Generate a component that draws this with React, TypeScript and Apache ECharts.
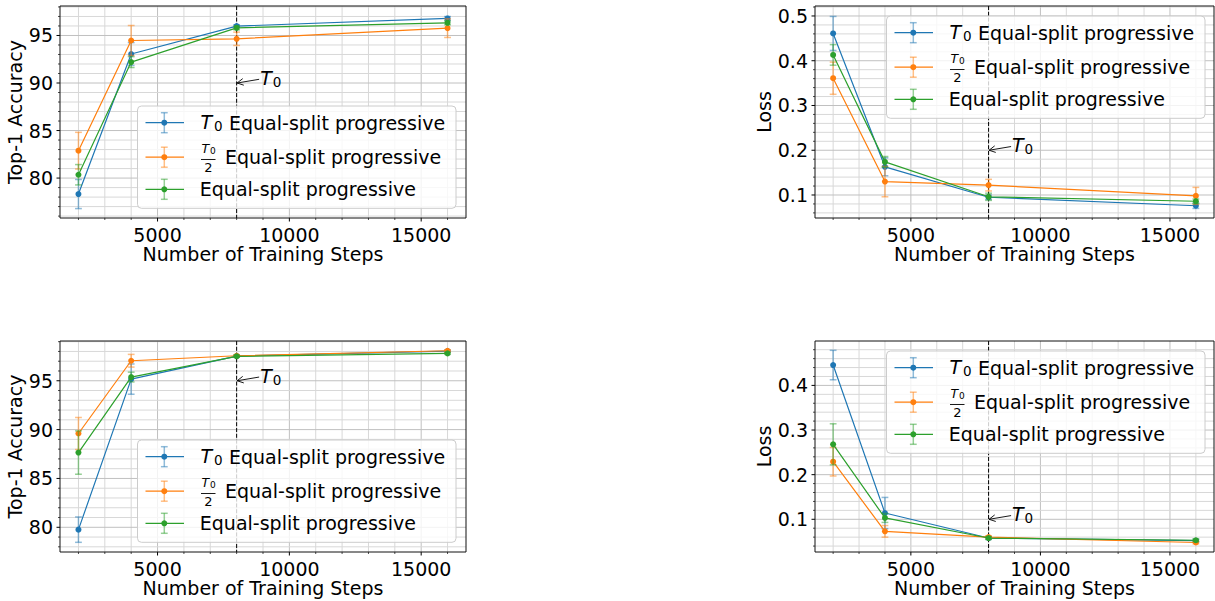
import React, { useEffect, useRef } from "react";
import * as echarts from "echarts";

// ---------------- data ----------------
const steps = [2000, 4000, 8000, 16000];
const T0_STEP = 8000;
const colors = ["#1f77b4", "#ff7f0e", "#2ca02c"];
const xLabelTicks = [5000, 10000, 15000];

// Top-left: accuracy (setting A)
const accA_t0 = [78.32, 93.05, 95.98, 96.79];
const accA_t0Err = [1.53, 1.2, 0.15, 0.2];
const accA_half = [82.88, 94.47, 94.65, 95.77];
const accA_halfErr = [1.93, 1.58, 0.7, 0.98];
const accA_eq = [80.35, 92.2, 95.8, 96.33];
const accA_eqErr = [1.07, 0.57, 0.2, 0.2];

// Top-right: loss (setting A)
const lossA_t0 = [0.461, 0.163, 0.095, 0.076];
const lossA_t0Err = [0.038, 0.02, 0.005, 0.006];
const lossA_half = [0.361, 0.13, 0.122, 0.098];
const lossA_halfErr = [0.036, 0.034, 0.013, 0.019];
const lossA_eq = [0.413, 0.174, 0.096, 0.086];
const lossA_eqErr = [0.023, 0.012, 0.008, 0.005];

// Bottom-left: accuracy (setting B)
const accB_t0 = [79.76, 95.17, 97.53, 98.04];
const accB_t0Err = [1.3, 1.55, 0.1, 0.1];
const accB_half = [89.6, 97.05, 97.56, 98.07];
const accB_halfErr = [1.64, 0.65, 0.1, 0.1];
const accB_eq = [87.65, 95.38, 97.5, 97.8];
const accB_eqErr = [2.22, 0.5, 0.1, 0.1];

// Bottom-right: loss (setting B)
const lossB_t0 = [0.4456, 0.114, 0.058, 0.052];
const lossB_t0Err = [0.033, 0.035, 0.003, 0.003];
const lossB_half = [0.229, 0.073, 0.06, 0.048];
const lossB_halfErr = [0.032, 0.013, 0.003, 0.003];
const lossB_eq = [0.268, 0.103, 0.058, 0.053];
const lossB_eqErr = [0.046, 0.01, 0.003, 0.003];

const accMajor = [80, 85, 90, 95];
const lossMajorA = [0.1, 0.2, 0.3, 0.4, 0.5];
const lossMajorB = [0.1, 0.2, 0.3, 0.4];

// ---------------- style ----------------
const FONT = "'DejaVu Sans', 'Liberation Sans', sans-serif";
const FS = 19;
const X_MIN = 1300;
const X_MAX = 16700;
const GRID_MAJOR = "#c0c0c0";
const GRID_MINOR = "#d8d8d8";
const LEGEND_Z = 100;

function range(a: number, b: number, step: number, scale: number) {
  const out: number[] = [];
  for (let k = a; k <= b; k += step) out.push(Math.round(k) / scale);
  return out;
}

const xGridVals = range(2000, 16000, 1000, 1);

type Panel = {
  left: number; top: number; width: number; height: number;
  yMin: number; yMax: number; yMajor: number[]; yGrid: number[];
  yName: string; nameGap: number; annY: number;
  values: number[][]; errs: number[][];
  legendX: number; legendY: number;
};

const panels: Panel[] = [
  {
    left: 60, top: 6, width: 406, height: 212,
    yMin: 75.8, yMax: 98.1, yMajor: accMajor, yGrid: range(76, 98, 1, 1),
    yName: "Top-1 Accuracy", nameGap: 30, annY: 90,
    values: [accA_t0, accA_half, accA_eq], errs: [accA_t0Err, accA_halfErr, accA_eqErr],
    legendX: 137.5, legendY: 106,
  },
  {
    left: 815, top: 6, width: 399, height: 212,
    yMin: 0.0486, yMax: 0.5223, yMajor: lossMajorA, yGrid: range(6, 52, 2, 100),
    yName: "Loss", nameGap: 38, annY: 0.2,
    values: [lossA_t0, lossA_half, lossA_eq], errs: [lossA_t0Err, lossA_halfErr, lossA_eqErr],
    legendX: 886.5, legendY: 16,
  },
  {
    left: 60, top: 341, width: 406, height: 211,
    yMin: 77.47, yMax: 99.07, yMajor: accMajor, yGrid: range(78, 99, 1, 1),
    yName: "Top-1 Accuracy", nameGap: 30, annY: 95,
    values: [accB_t0, accB_half, accB_eq], errs: [accB_t0Err, accB_halfErr, accB_eqErr],
    legendX: 137.5, legendY: 440,
  },
  {
    left: 815, top: 341, width: 399, height: 211,
    yMin: 0.0267, yMax: 0.4995, yMajor: lossMajorB, yGrid: range(4, 48, 2, 100),
    yName: "Loss", nameGap: 38, annY: 0.1,
    values: [lossB_t0, lossB_half, lossB_eq], errs: [lossB_t0Err, lossB_halfErr, lossB_eqErr],
    legendX: 886.5, legendY: 351,
  },
];

function isMajor(v: number, majors: number[]) {
  return majors.some((m) => Math.abs(m - v) < 1e-9);
}

function txt(x: number, y: number, text: string, size: number, italic = false, align = "left", z?: number) {
  const el: any = {
    type: "text",
    x,
    y,
    style: {
      text,
      font: `${italic ? "italic " : ""}${size}px ${FONT}`,
      fill: "#000",
      align,
      textAlign: align,
      verticalAlign: "middle",
      textVerticalAlign: "middle",
    },
  };
  if (z !== undefined) el.z = z;
  return el;
}

function legendGroup(p: Panel) {
  const rows = [16.7, 51.2, 83.3];
  const Z = LEGEND_Z;
  const children: any[] = [
    {
      type: "rect", z: Z,
      shape: { x: 0, y: 0, width: 318.5, height: 102.3, r: 4 },
      style: { fill: "rgba(255,255,255,0.8)", stroke: "#cccccc", lineWidth: 1 },
    },
  ];
  rows.forEach((ry, s) => {
    const c = colors[s];
    children.push(
      { type: "line", z: Z + 1, shape: { x1: 8, y1: ry, x2: 46.5, y2: ry }, style: { stroke: c, lineWidth: 1.2 } },
      { type: "line", z: Z + 1, shape: { x1: 26.8, y1: ry - 10, x2: 26.8, y2: ry + 10 }, style: { stroke: c, lineWidth: 1.5, opacity: 0.5 } },
      { type: "line", z: Z + 1, shape: { x1: 23.4, y1: ry - 10, x2: 30.2, y2: ry - 10 }, style: { stroke: c, lineWidth: 1.5, opacity: 0.5 } },
      { type: "line", z: Z + 1, shape: { x1: 23.4, y1: ry + 10, x2: 30.2, y2: ry + 10 }, style: { stroke: c, lineWidth: 1.5, opacity: 0.5 } },
      { type: "circle", z: Z + 2, shape: { cx: 26.8, cy: ry, r: 3 }, style: { fill: c } }
    );
  });
  const T = Z + 3;
  // row 0: T0 Equal-split progressive
  children.push(txt(63, rows[0] - 1, "T", FS, true, "left", T));
  children.push(txt(76.5, rows[0] + 3, "0", 13.5, false, "left", T));
  children.push(txt(91.5, rows[0], "Equal-split progressive", FS, false, "left", T));
  // row 1: T0/2 Equal-split progressive
  children.push(txt(64, rows[1] - 8.5, "T", 12.5, true, "left", T));
  children.push(txt(72.5, rows[1] - 6, "0", 9, false, "left", T));
  children.push({
    type: "line", z: T,
    shape: { x1: 63.5, y1: rows[1] + 2.3, x2: 78, y2: rows[1] + 2.3 },
    style: { stroke: "#000", lineWidth: 0.9 },
  });
  children.push(txt(70.8, rows[1] + 10.3, "2", 13, false, "center", T));
  children.push(txt(87.5, rows[1], "Equal-split progressive", FS, false, "left", T));
  // row 2
  children.push(txt(62.3, rows[2], "Equal-split progressive", FS, false, "left", T));
  return { type: "group", x: p.legendX, y: p.legendY, z: Z, children };
}

function buildOption() {
  const grid: any[] = [];
  const xAxis: any[] = [];
  const yAxis: any[] = [];
  const series: any[] = [];
  const graphic: any[] = [];

  panels.forEach((p, i) => {
    grid.push({
      left: p.left, top: p.top, width: p.width, height: p.height,
      show: true, borderColor: "#111", borderWidth: 1, backgroundColor: "transparent", z: 10,
    });
    xAxis.push({
      type: "value", gridIndex: i, min: X_MIN, max: X_MAX,
      splitLine: { show: false }, axisLine: { show: false }, axisTick: { show: false },
      axisLabel: {
        customValues: xLabelTicks, fontSize: FS, color: "#000", fontFamily: FONT, margin: 7,
        formatter: (v: number) => String(v),
      },
      name: "Number of Training Steps", nameLocation: "middle", nameGap: 25,
      nameTextStyle: { fontSize: FS, color: "#000", fontFamily: FONT },
    });
    yAxis.push({
      type: "value", gridIndex: i, min: p.yMin, max: p.yMax,
      splitLine: { show: false }, axisLine: { show: false }, axisTick: { show: false },
      axisLabel: {
        customValues: p.yMajor, fontSize: FS, color: "#000", fontFamily: FONT, margin: 7,
        formatter: (v: number) => String(v),
      },
      name: p.yName, nameLocation: "middle", nameGap: p.nameGap,
      nameTextStyle: { fontSize: FS, color: "#000", fontFamily: FONT },
    });

    // vertical grid lines + x ticks
    series.push({
      type: "custom", xAxisIndex: i, yAxisIndex: i, z: 1, silent: true, clip: false,
      data: xGridVals.map((v) => [v, p.yMin, isMajor(v, xLabelTicks) ? 1 : 0]),
      encode: { x: 0, y: 1 },
      renderItem: (_params: any, api: any) => {
        const v = api.value(0);
        const major = api.value(2) === 1;
        const a = api.coord([v, p.yMin]);
        const b = api.coord([v, p.yMax]);
        return {
          type: "group",
          children: [
            { type: "line", shape: { x1: a[0], y1: a[1], x2: b[0], y2: b[1] }, style: { stroke: major ? GRID_MAJOR : GRID_MINOR, lineWidth: 1 } },
            { type: "line", shape: { x1: a[0], y1: a[1], x2: a[0], y2: a[1] + (major ? 3.5 : 2) }, style: { stroke: "#000", lineWidth: major ? 1 : 0.7 } },
          ],
        };
      },
    });
    // horizontal grid lines + y ticks
    series.push({
      type: "custom", xAxisIndex: i, yAxisIndex: i, z: 1, silent: true, clip: false,
      data: p.yGrid.map((v) => [X_MIN, v, isMajor(v, p.yMajor) ? 1 : 0]),
      encode: { x: 0, y: 1 },
      renderItem: (_params: any, api: any) => {
        const v = api.value(1);
        const major = api.value(2) === 1;
        const a = api.coord([X_MIN, v]);
        const b = api.coord([X_MAX, v]);
        return {
          type: "group",
          children: [
            { type: "line", shape: { x1: a[0], y1: a[1], x2: b[0], y2: b[1] }, style: { stroke: major ? GRID_MAJOR : GRID_MINOR, lineWidth: 1 } },
            { type: "line", shape: { x1: a[0], y1: a[1], x2: a[0] - (major ? 3.5 : 2), y2: a[1] }, style: { stroke: "#000", lineWidth: major ? 1 : 0.7 } },
          ],
        };
      },
    });
    // T0 dashed line + annotation
    series.push({
      type: "custom", xAxisIndex: i, yAxisIndex: i, z: 2, silent: true, clip: false,
      data: [[T0_STEP, p.annY]],
      encode: { x: 0, y: 1 },
      renderItem: (_params: any, api: any) => {
        const x = api.value(0);
        const tip = api.coord([x, api.value(1)]);
        const top = api.coord([x, p.yMax]);
        const bot = api.coord([x, p.yMin]);
        const tail = [tip[0] + 22.5, tip[1] - 3.7];
        const dx = tail[0] - tip[0];
        const dy = tail[1] - tip[1];
        const len = Math.sqrt(dx * dx + dy * dy);
        const ux = dx / len;
        const uy = dy / len;
        const L = 7.5;
        const ang = 0.46;
        const w1 = [tip[0] + L * (ux * Math.cos(ang) - uy * Math.sin(ang)), tip[1] + L * (ux * Math.sin(ang) + uy * Math.cos(ang))];
        const w2 = [tip[0] + L * (ux * Math.cos(-ang) - uy * Math.sin(-ang)), tip[1] + L * (ux * Math.sin(-ang) + uy * Math.cos(-ang))];
        return {
          type: "group",
          children: [
            { type: "line", shape: { x1: top[0], y1: top[1], x2: bot[0], y2: bot[1] }, style: { stroke: "#000", lineWidth: 1, lineDash: [4, 1.8] } },
            { type: "line", shape: { x1: tail[0], y1: tail[1], x2: tip[0] + 0.5, y2: tip[1] }, style: { stroke: "#000", lineWidth: 0.9 } },
            { type: "polyline", shape: { points: [w1, [tip[0] + 0.5, tip[1]], w2] }, style: { stroke: "#000", lineWidth: 0.9, fill: "none" } },
            txt(tip[0] + 23.5, tip[1] - 5, "T", FS, true),
            txt(tip[0] + 36, tip[1] - 1, "0", 13.5),
          ],
        };
      },
    });

    // data series
    p.values.forEach((vals, s) => {
      const c = colors[s];
      const errs = p.errs[s];
      series.push({
        type: "custom", xAxisIndex: i, yAxisIndex: i, z: 3 + s, silent: true, clip: false,
        data: steps.map((x, k) => [x, vals[k], errs[k]]),
        encode: { x: 0, y: 1 },
        renderItem: (_params: any, api: any) => {
          const x = api.value(0);
          const y = api.value(1);
          const e = api.value(2);
          const t = api.coord([x, y + e]);
          const b = api.coord([x, y - e]);
          const st = { stroke: c, lineWidth: 1.5, opacity: 0.5 };
          return {
            type: "group",
            children: [
              { type: "line", shape: { x1: t[0], y1: t[1], x2: b[0], y2: b[1] }, style: st },
              { type: "line", shape: { x1: t[0] - 3.4, y1: t[1], x2: t[0] + 3.4, y2: t[1] }, style: st },
              { type: "line", shape: { x1: b[0] - 3.4, y1: b[1], x2: b[0] + 3.4, y2: b[1] }, style: st },
            ],
          };
        },
      });
      series.push({
        type: "line", xAxisIndex: i, yAxisIndex: i, z: 3 + s, silent: true,
        data: steps.map((x, k) => [x, vals[k]]),
        symbol: "circle", symbolSize: 6, showSymbol: true,
        lineStyle: { color: c, width: 1.2 },
        itemStyle: { color: c },
      });
    });

    graphic.push(legendGroup(p));
  });

  return { animation: false, grid, xAxis, yAxis, series, graphic };
}

export default function App() {
  const ref = useRef<HTMLDivElement>(null);
  useEffect(() => {
    if (!ref.current) return;
    const chart = echarts.init(ref.current, null, { renderer: "svg" });
    chart.setOption(buildOption() as any);
    return () => chart.dispose();
  }, []);
  return (
    <div
      ref={ref}
      style={{ position: "fixed", left: 0, top: 0, width: 1215, height: 601, background: "#fff" }}
    />
  );
}
